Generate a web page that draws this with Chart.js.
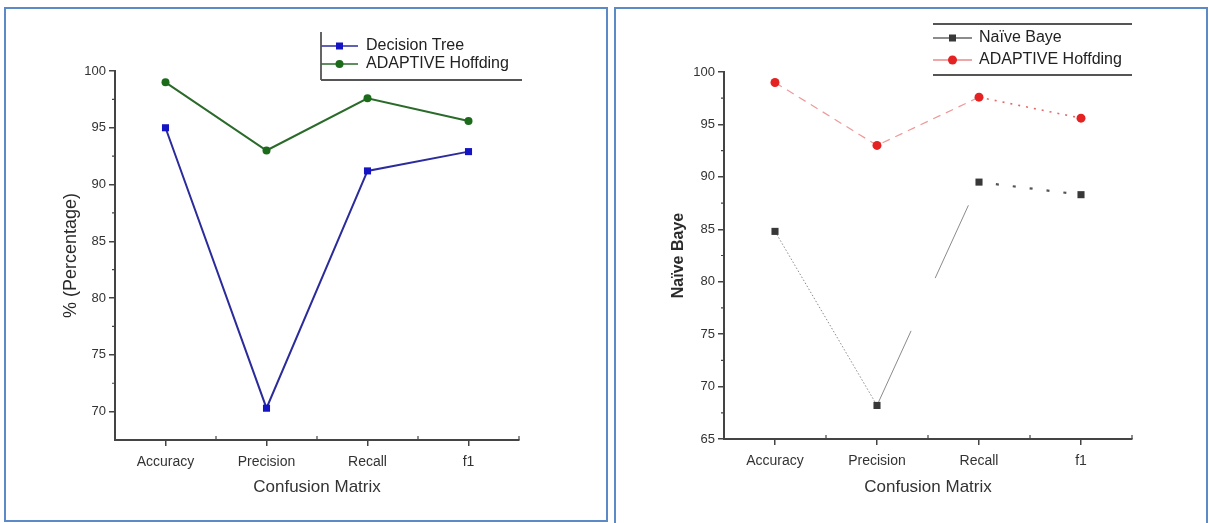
<!DOCTYPE html>
<html>
<head>
<meta charset="utf-8">
<script src="https://cdn.jsdelivr.net/npm/chart.js@4.4.1/dist/chart.umd.min.js"></script>
<style>
  body { margin: 0; background: #fff; width: 1209px; height: 523px; overflow: hidden; position: relative; }
  .panel { position: absolute; border: 2px solid #5b8ac6; box-sizing: border-box; }
  #p1 { left: 4px; top: 7px; width: 604px; height: 515px; }
  #p2 { left: 614px; top: 7px; width: 594px; height: 540px; }
  canvas { position: absolute; }
  #c1 { left: 7px; top: 10px; }
  #c2 { left: 617px; top: 10px; }
</style>
</head>
<body>
<div class="panel" id="p1"></div>
<div class="panel" id="p2"></div>
<canvas id="c1" width="598" height="508"></canvas>
<canvas id="c2" width="588" height="508"></canvas>
<script>
// --- dati ---
const categories = ["Accuracy", "Precision", "Recall", "f1"];
const decisionTree = [95.0, 70.3, 91.2, 92.9];
const adaptiveLeft = [99.0, 93.0, 97.6, 95.6];
const naiveBaye = [84.8, 68.2, 89.5, 88.3];
const adaptiveRight = [99.0, 93.0, 97.6, 95.6];
const leftTicks = [70, 75, 80, 85, 90, 95, 100];
const rightTicks = [65, 70, 75, 80, 85, 90, 95, 100];

// stili dei segmenti (grafico di destra)
const nbSegColor = ["#8a8a8a", "#8a8a8a", "#555555"];
const nbSegWidth = [1, 1, 2.2];
const nbSegDash = [[1.5, 2], [82, 58, 80, 26], [3, 14]];
const ahSegColor = ["#ee9a9a", "#ee9a9a", "#e46a6a"];
const ahSegWidth = [1.2, 1.2, 1.6];
const ahSegDash = [[8, 6], [8, 6], [2, 6]];

Chart.defaults.font.family = "'Liberation Sans', Arial, sans-serif";
Chart.defaults.color = "#333";

// tacche secondarie + legenda disegnata a mano
const extras = {
  id: "extras",
  afterDraw(chart, args, opts) {
    const ctx = chart.ctx;
    const x = chart.scales.x, y = chart.scales.y;
    ctx.save();
    ctx.strokeStyle = "#444";
    ctx.lineWidth = 1.2;
    ctx.beginPath();
    for (let i = 0; i < categories.length; i++) {
      const px = x.getPixelForValue(i + 0.5);
      ctx.moveTo(px, y.bottom);
      ctx.lineTo(px, y.bottom - 4);
    }
    opts.ticks.forEach(v => {
      const m = v + 2.5;
      if (m < y.max) {
        const py = y.getPixelForValue(m);
        ctx.moveTo(x.left, py);
        ctx.lineTo(x.left - 3, py);
      }
    });
    ctx.stroke();

    // legenda
    const lg = opts.legend;
    ctx.font = "16px 'Liberation Sans', Arial, sans-serif";
    ctx.textBaseline = "middle";
    chart.data.datasets.forEach((ds, i) => {
      const ry = lg.rows[i];
      ctx.strokeStyle = ds.legendLine;
      ctx.lineWidth = 1.5;
      ctx.setLineDash([]);
      ctx.beginPath();
      ctx.moveTo(lg.x0, ry);
      ctx.lineTo(lg.x1, ry);
      ctx.stroke();
      ctx.fillStyle = ds.pointBackgroundColor;
      const mx = (lg.x0 + lg.x1) / 2;
      if (ds.pointStyle === "rect") {
        ctx.fillRect(mx - 3.5, ry - 3.5, 7, 7);
      } else {
        ctx.beginPath();
        ctx.arc(mx, ry, ds.pointRadius, 0, Math.PI * 2);
        ctx.fill();
      }
      ctx.fillStyle = "#222";
      ctx.fillText(ds.label, lg.tx, ry);
    });
    ctx.strokeStyle = "#555";
    ctx.lineWidth = 1.8;
    ctx.beginPath();
    lg.lines.forEach(l => { ctx.moveTo(l[0], l[1]); ctx.lineTo(l[2], l[3]); });
    ctx.stroke();
    ctx.restore();
  }
};

function buildChart(id, datasets, yMin, ticks, yTitle, layout, legend) {
  return new Chart(document.getElementById(id), {
    type: "line",
    data: { labels: categories, datasets: datasets },
    plugins: [extras],
    options: {
      responsive: false,
      animation: false,
      layout: { padding: layout.padding },
      plugins: {
        legend: { display: false },
        tooltip: { enabled: false },
        extras: { ticks: ticks, legend: legend }
      },
      scales: {
        x: {
          offset: true,
          afterFit: s => { s.height = layout.xHeight; },
          border: { display: true, color: "#444", width: 2 },
          grid: { display: true, drawOnChartArea: false, tickLength: 6, color: "#444", lineWidth: 1.5 },
          ticks: { font: { size: 14 }, color: "#333", padding: 8 },
          title: { display: true, text: "Confusion Matrix", font: { size: 17 }, color: "#333", padding: { top: 4, bottom: 4 } }
        },
        y: {
          min: yMin,
          max: 100,
          afterBuildTicks: s => { s.ticks = ticks.map(v => ({ value: v })); },
          afterFit: s => { s.width = layout.yWidth; },
          border: { display: true, color: "#444", width: 2 },
          grid: { display: true, drawOnChartArea: false, tickLength: 6, color: "#444", lineWidth: 1.5 },
          ticks: { font: { size: 13 }, color: "#333", padding: 3 },
          title: { display: true, text: yTitle.text, font: yTitle.font, color: "#2a2a2a", padding: { top: 4, bottom: 4 } }
        }
      }
    }
  });
}

// grafico sinistro: Decision Tree vs ADAPTIVE Hoffding
buildChart("c1", [
  {
    label: "Decision Tree", data: decisionTree,
    borderColor: "#2b2b9c", borderWidth: 2, legendLine: "#2b2b9c",
    pointStyle: "rect", pointRadius: 5, pointBackgroundColor: "#1414c4", pointBorderWidth: 0
  },
  {
    label: "ADAPTIVE Hoffding", data: adaptiveLeft,
    borderColor: "#2a6a2a", borderWidth: 2, legendLine: "#2a6a2a",
    pointStyle: "circle", pointRadius: 4, pointBackgroundColor: "#1b6b1b", pointBorderWidth: 0
  }
], 67.5, leftTicks, { text: "% (Percentage)", font: { size: 18 } },
  { padding: { left: 49, top: 61, right: 86, bottom: 16 }, yWidth: 59, xHeight: 62 },
  { rows: [36, 54], x0: 314, x1: 351, tx: 359,
    lines: [[314, 22, 314, 70], [314, 70, 515, 70]] });

// grafico destro: Naïve Baye vs ADAPTIVE Hoffding
buildChart("c2", [
  {
    label: "Naïve Baye", data: naiveBaye,
    borderColor: "#8a8a8a", borderWidth: 1, legendLine: "#666",
    segment: {
      borderColor: c => nbSegColor[c.p0DataIndex],
      borderWidth: c => nbSegWidth[c.p0DataIndex],
      borderDash: c => nbSegDash[c.p0DataIndex]
    },
    pointStyle: "rect", pointRadius: 5, pointBackgroundColor: "#383838", pointBorderWidth: 0
  },
  {
    label: "ADAPTIVE Hoffding", data: adaptiveRight,
    borderColor: "#ee9a9a", borderWidth: 1.2, legendLine: "#e98a8a",
    segment: {
      borderColor: c => ahSegColor[c.p0DataIndex],
      borderWidth: c => ahSegWidth[c.p0DataIndex],
      borderDash: c => ahSegDash[c.p0DataIndex]
    },
    pointStyle: "circle", pointRadius: 4.5, pointBackgroundColor: "#e52222", pointBorderWidth: 0
  }
], 65, rightTicks, { text: "Naïve Baye", font: { size: 16, weight: "bold" } },
  { padding: { left: 48, top: 62, right: 73, bottom: 16 }, yWidth: 59, xHeight: 63 },
  { rows: [28, 50], x0: 316, x1: 355, tx: 362,
    lines: [[316, 14, 515, 14], [316, 65, 515, 65]] });
</script>
</body>
</html>
